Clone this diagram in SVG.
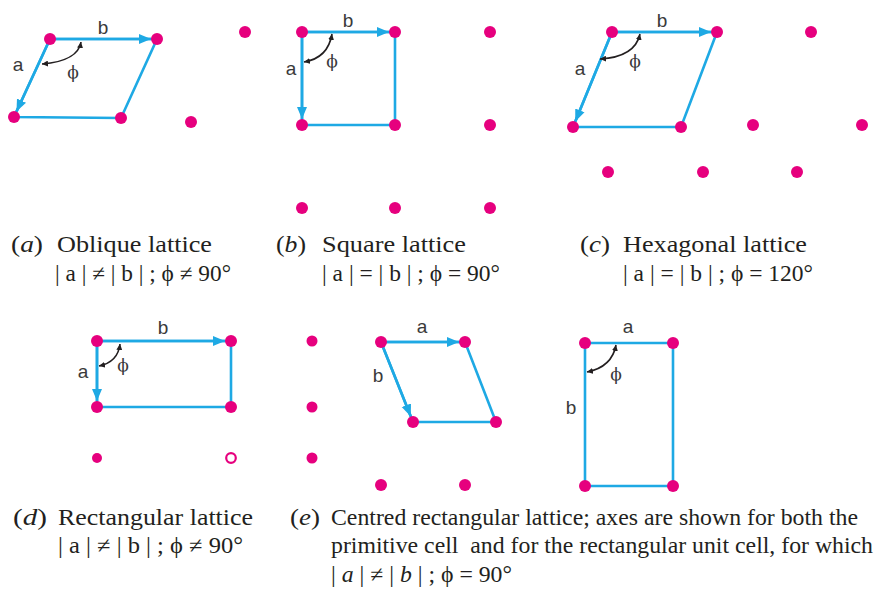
<svg xmlns="http://www.w3.org/2000/svg" width="874" height="597" viewBox="0 0 874 597">
<style>
.cell{fill:none;stroke:#1ea9e4;stroke-width:2.6;stroke-linejoin:miter}
.vec{fill:none;stroke:#1ea9e4;stroke-width:2.6;marker-end:url(#ah)}
.arc{fill:none;stroke:#231f20;stroke-width:1.6;marker-start:url(#sa);marker-end:url(#sa)}
.dot{fill:#e6007e}
.ring{fill:#fff;stroke:#e6007e;stroke-width:2.2}
.lbl{font-family:"Liberation Sans",Arial,sans-serif;font-size:19px;fill:#3a3a3a;text-anchor:middle}
.phi{font-family:"DejaVu Serif","Liberation Serif",serif;font-size:17px;fill:#3a3a3a;text-anchor:middle}
.cap{font-family:"Liberation Serif","Times New Roman",serif;font-size:23px;fill:#231f20}
.it{font-style:italic}
</style>
<defs>
<marker id="ah" markerUnits="userSpaceOnUse" markerWidth="13" markerHeight="11" refX="12" refY="5.5" orient="auto">
<path d="M0,0.5 L12,5.5 L0,10.5 z" fill="#1ea9e4"/>
</marker>
<marker id="sa" markerUnits="userSpaceOnUse" markerWidth="7" markerHeight="6" refX="6" refY="3" orient="auto-start-reverse">
<path d="M0,0 L6,3 L0,6 z" fill="#231f20"/>
</marker>
</defs>

<g id="connectors">
<path class="cell" d="M50,39 L157,39 L121,118 L14,117 Z"/>
<line class="vec" x1="50" y1="39" x2="151" y2="39"/>
<line class="vec" x1="50" y1="39" x2="16.5" y2="111.5"/>
<path class="arc" d="M81,42 Q78,61 42,64"/>
<path class="cell" d="M302,32 L395,32 L395,125 L302,125 Z"/>
<line class="vec" x1="302" y1="32" x2="389" y2="32"/>
<line class="vec" x1="302" y1="32" x2="302" y2="119"/>
<path class="arc" d="M332,34 Q328,58 304,62"/>
<path class="cell" d="M612,32 L717,32 L681,127 L573,127 Z"/>
<line class="vec" x1="612" y1="32" x2="711" y2="32"/>
<line class="vec" x1="612" y1="32" x2="575.3" y2="121.5"/>
<path class="arc" d="M640,34 Q635,57 600,59"/>
<path class="cell" d="M97,341 L231,341 L231,407 L97,407 Z"/>
<line class="vec" x1="97" y1="341" x2="225" y2="341"/>
<line class="vec" x1="97" y1="341" x2="97" y2="401"/>
<path class="arc" d="M120,344 Q118,362 99,366"/>
<path class="cell" d="M381,342 L465,342 L496,422 L413,422 Z"/>
<line class="vec" x1="381" y1="342" x2="459" y2="342"/>
<line class="vec" x1="381" y1="342" x2="410.8" y2="416.4"/>
<path class="cell" d="M585,343 L673,343 L673,486 L585,486 Z"/>
<path class="arc" d="M616,345 Q612,367 587,372"/>
</g>

<g id="panel-a">
<circle class="dot" cx="50" cy="39" r="6"/>
<circle class="dot" cx="157" cy="39" r="6"/>
<circle class="dot" cx="14" cy="117" r="6"/>
<circle class="dot" cx="121" cy="118" r="6"/>
<circle class="dot" cx="245" cy="32" r="6"/>
<circle class="dot" cx="191" cy="122" r="6"/>
<text class="lbl" x="103" y="34">b</text>
<text class="lbl" x="18" y="71">a</text>
<text class="phi" x="73" y="78">ϕ</text>
</g>

<g id="panel-b">
<circle class="dot" cx="302" cy="32" r="6"/>
<circle class="dot" cx="395" cy="32" r="6"/>
<circle class="dot" cx="490" cy="32" r="6"/>
<circle class="dot" cx="302" cy="125" r="6"/>
<circle class="dot" cx="395" cy="125" r="6"/>
<circle class="dot" cx="490" cy="125" r="6"/>
<circle class="dot" cx="302" cy="208" r="6"/>
<circle class="dot" cx="395" cy="208" r="6"/>
<circle class="dot" cx="490" cy="208" r="6"/>
<text class="lbl" x="348" y="27">b</text>
<text class="lbl" x="291" y="75">a</text>
<text class="phi" x="332" y="67">ϕ</text>
</g>

<g id="panel-c">
<circle class="dot" cx="612" cy="32" r="6"/>
<circle class="dot" cx="717" cy="32" r="6"/>
<circle class="dot" cx="811" cy="32" r="6"/>
<circle class="dot" cx="573" cy="127" r="6"/>
<circle class="dot" cx="681" cy="127" r="6"/>
<circle class="dot" cx="753" cy="125" r="6"/>
<circle class="dot" cx="862" cy="125" r="6"/>
<circle class="dot" cx="608" cy="172" r="6"/>
<circle class="dot" cx="703" cy="172" r="6"/>
<circle class="dot" cx="797" cy="172" r="6"/>
<text class="lbl" x="662" y="27">b</text>
<text class="lbl" x="580" y="75">a</text>
<text class="phi" x="635" y="67">ϕ</text>
</g>

<g id="panel-d">
<circle class="dot" cx="97" cy="341" r="6"/>
<circle class="dot" cx="231" cy="341" r="6"/>
<circle class="dot" cx="312" cy="341" r="5.5"/>
<circle class="dot" cx="97" cy="407" r="6"/>
<circle class="dot" cx="231" cy="407" r="6"/>
<circle class="dot" cx="312" cy="407" r="5.5"/>
<circle class="dot" cx="97" cy="458" r="5"/>
<circle class="ring" cx="231" cy="458" r="4.8"/>
<circle class="dot" cx="312" cy="458" r="5.5"/>
<text class="lbl" x="163" y="334">b</text>
<text class="lbl" x="83" y="378">a</text>
<text class="phi" x="123" y="371">ϕ</text>
</g>

<g id="panel-e-primitive">
<circle class="dot" cx="381" cy="342" r="6"/>
<circle class="dot" cx="465" cy="342" r="6"/>
<circle class="dot" cx="413" cy="422" r="6"/>
<circle class="dot" cx="496" cy="422" r="6"/>
<circle class="dot" cx="381" cy="485" r="6"/>
<circle class="dot" cx="465" cy="485" r="6"/>
<text class="lbl" x="422" y="333">a</text>
<text class="lbl" x="378" y="382">b</text>
</g>

<g id="panel-e-rect">
<circle class="dot" cx="585" cy="343" r="6"/>
<circle class="dot" cx="673" cy="343" r="6"/>
<circle class="dot" cx="585" cy="486" r="6"/>
<circle class="dot" cx="673" cy="486" r="6"/>
<text class="lbl" x="628" y="333">a</text>
<text class="lbl" x="571" y="414">b</text>
<text class="phi" x="616" y="380">ϕ</text>
</g>

<g id="captions">
<text class="cap" x="11" y="252" textLength="32" lengthAdjust="spacingAndGlyphs">(<tspan class="it">a</tspan>)</text>
<text class="cap" x="57" y="252" textLength="155" lengthAdjust="spacingAndGlyphs">Oblique lattice</text>
<text class="cap" x="55" y="281" textLength="176" lengthAdjust="spacingAndGlyphs">| a | ≠ | b | ; ϕ ≠ 90°</text>

<text class="cap" x="276" y="252" textLength="30" lengthAdjust="spacingAndGlyphs">(<tspan class="it">b</tspan>)</text>
<text class="cap" x="322" y="252" textLength="144" lengthAdjust="spacingAndGlyphs">Square lattice</text>
<text class="cap" x="322" y="281" textLength="178" lengthAdjust="spacingAndGlyphs">| a | = | b | ; ϕ = 90°</text>

<text class="cap" x="580" y="252" textLength="30" lengthAdjust="spacingAndGlyphs">(<tspan class="it">c</tspan>)</text>
<text class="cap" x="623" y="252" textLength="184" lengthAdjust="spacingAndGlyphs">Hexagonal lattice</text>
<text class="cap" x="623" y="281" textLength="190" lengthAdjust="spacingAndGlyphs">| a | = | b | ; ϕ = 120°</text>

<text class="cap" x="13" y="525" textLength="34" lengthAdjust="spacingAndGlyphs">(<tspan class="it">d</tspan>)</text>
<text class="cap" x="58" y="525" textLength="195" lengthAdjust="spacingAndGlyphs">Rectangular lattice</text>
<text class="cap" x="58" y="553" textLength="185" lengthAdjust="spacingAndGlyphs">| a | ≠ | b | ; ϕ ≠ 90°</text>

<text class="cap" x="290" y="525" textLength="30" lengthAdjust="spacingAndGlyphs">(<tspan class="it">e</tspan>)</text>
<text class="cap" x="331" y="525" textLength="527" lengthAdjust="spacingAndGlyphs">Centred rectangular lattice; axes are shown for both the</text>
<text class="cap" x="331" y="553" textLength="542" lengthAdjust="spacingAndGlyphs">primitive cell&#160; and for the rectangular unit cell, for which</text>
<text class="cap" x="331" y="582" textLength="181" lengthAdjust="spacingAndGlyphs">| <tspan class="it">a</tspan> | ≠ | <tspan class="it">b</tspan> | ; ϕ = 90°</text>
</g>
</svg>
